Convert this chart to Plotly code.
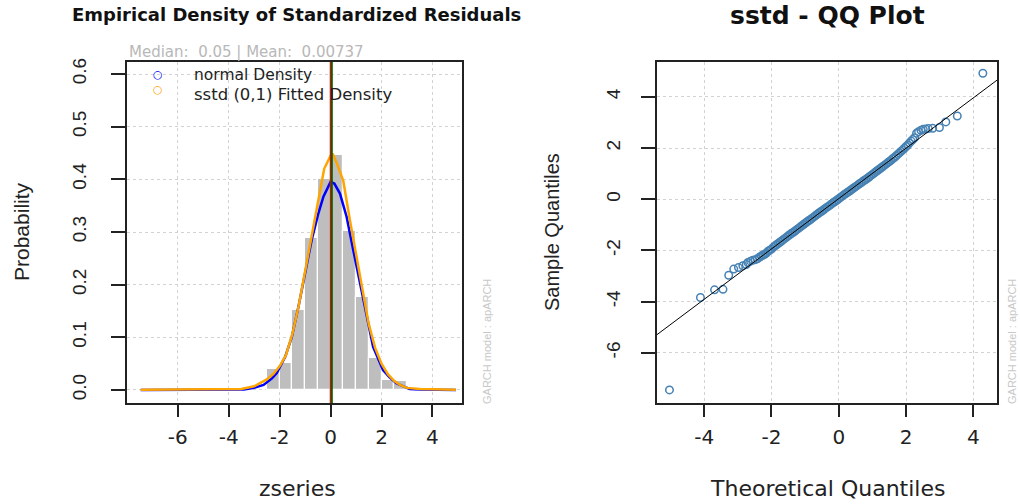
import plotly.graph_objects as go

# ---------------- data: left panel ----------------
BIN_CENTERS = [-2.25, -1.75, -1.25, -0.75, -0.25, 0.25, 0.75, 1.25, 1.75, 2.25, 2.75]
BIN_HEIGHTS = [0.039, 0.052, 0.152, 0.288, 0.400, 0.446, 0.302, 0.176, 0.061, 0.019, 0.017]
BIN_WIDTH = 0.5

NORM_X = [-7.45, -4.0, -3.4, -3.0, -2.63, -2.3, -2.11, -1.78, -1.52, -1.26, -1.0, -0.74, -0.48,
          -0.28, 0.0, 0.15, 0.37, 0.63, 0.89, 1.15, 1.41, 1.67, 2.06, 2.3, 2.58, 3.1, 3.5, 4.92]
NORM_Y = [0.0, 0.0, 0.001, 0.004, 0.0095, 0.022, 0.032, 0.063, 0.101, 0.158, 0.221, 0.285, 0.335,
          0.367, 0.395, 0.392, 0.373, 0.329, 0.266, 0.203, 0.139, 0.082, 0.038, 0.025, 0.0127, 0.002, 0.001, 0.0]

SSTD_X = [-7.45, -5.0, -4.5, -4.0, -3.5, -3.0, -2.75, -2.5, -2.25, -2.0, -1.75, -1.5, -1.25, -1.0,
          -0.75, -0.5, -0.25, 0.0, 0.1, 0.25, 0.5, 0.75, 1.0, 1.25, 1.5, 1.75, 2.0, 2.25, 2.5, 2.75,
          3.0, 3.5, 4.0, 4.92]
SSTD_Y = [0.0005, 0.001, 0.001, 0.002, 0.002, 0.007, 0.013, 0.020, 0.030, 0.045, 0.066, 0.106, 0.160,
          0.228, 0.290, 0.355, 0.420, 0.445, 0.447, 0.430, 0.397, 0.325, 0.258, 0.197, 0.125, 0.080,
          0.050, 0.030, 0.017, 0.009, 0.004, 0.002, 0.001, 0.0005]

MEAN = 0.00737
MEDIAN = 0.05

# ---------------- data: right panel (QQ plot) ----------------
QQ_THEO = [-5.03, -4.11, -3.69, -3.44, -3.27, -3.12, -2.98, -2.85, -2.75, -2.70, -2.62, -2.55, -2.48,
           -2.42, -2.36, -2.30, -2.25,
           -2.20, -2.15, -2.10, -2.05, -2.00, -1.95, -1.90, -1.85, -1.80, -1.75, -1.70, -1.65, -1.60,
           -1.55, -1.50, -1.45, -1.40, -1.35, -1.30, -1.25, -1.20, -1.15, -1.10, -1.05, -1.00, -0.95,
           -0.90, -0.85, -0.80, -0.75, -0.70, -0.65, -0.60, -0.55, -0.50, -0.45, -0.40, -0.35, -0.30,
           -0.25, -0.20, -0.15, -0.10, -0.05, 0.00, 0.05, 0.10, 0.15, 0.20, 0.25, 0.30, 0.35, 0.40,
           0.45, 0.50, 0.55, 0.60, 0.65, 0.70, 0.75, 0.80, 0.85, 0.90, 0.95, 1.00, 1.05, 1.10, 1.15,
           1.20, 1.25, 1.30, 1.35, 1.40, 1.45, 1.50, 1.55, 1.60, 1.65, 1.70, 1.75, 1.80, 1.85, 1.90,
           1.95, 2.00, 2.05, 2.10, 2.15, 2.20,
           2.25, 2.31, 2.37, 2.44, 2.51, 2.58, 2.66, 2.79, 2.99, 3.18, 3.52, 4.28]
QQ_SAMPLE = [-7.45, -3.84, -3.54, -3.52, -2.97, -2.73, -2.67, -2.60, -2.55, -2.47, -2.42, -2.38, -2.36,
             -2.33, -2.27, -2.22, -2.18,
             -2.15, -2.10, -2.03, -1.99, -1.95, -1.88, -1.83, -1.78, -1.73, -1.68, -1.63, -1.58, -1.53,
             -1.48, -1.43, -1.38, -1.33, -1.29, -1.24, -1.19, -1.14, -1.09, -1.04, -0.99, -0.94, -0.89,
             -0.84, -0.80, -0.75, -0.70, -0.65, -0.60, -0.55, -0.50, -0.46, -0.41, -0.36, -0.31, -0.27,
             -0.22, -0.17, -0.12, -0.08, -0.03, 0.02, 0.07, 0.12, 0.17, 0.21, 0.26, 0.30, 0.35, 0.40,
             0.45, 0.49, 0.54, 0.59, 0.63, 0.68, 0.73, 0.77, 0.82, 0.87, 0.92, 0.97, 1.02, 1.07, 1.12,
             1.17, 1.22, 1.27, 1.32, 1.37, 1.42, 1.47, 1.52, 1.58, 1.63, 1.69, 1.75, 1.81, 1.87, 1.93,
             1.99, 2.06, 2.12, 2.20, 2.27, 2.33,
             2.40, 2.58, 2.64, 2.69, 2.73, 2.74, 2.76, 2.77, 2.80, 3.02, 3.25, 4.92]
QQ_LINE_X = [-6.0, 6.0]
QQ_LINE_Y = [-5.88, 5.93]

LEFT_XTICKS = [-6, -4, -2, 0, 2, 4]
LEFT_XTICKTEXT = ["-6", "-4", "-2", "0", "2", "4"]
LEFT_YTICKS = [0.0, 0.1, 0.2, 0.3, 0.4, 0.5, 0.6]
LEFT_YTICKTEXT = ["0.0", "0.1", "0.2", "0.3", "0.4", "0.5", "0.6"]
RIGHT_XTICKS = [-4, -2, 0, 2, 4]
RIGHT_XTICKTEXT = ["-4", "-2", "0", "2", "4"]
RIGHT_YTICKS = [-6, -4, -2, 0, 2, 4]
RIGHT_YTICKTEXT = ["-6", "-4", "-2", "0", "2", "4"]

# ---------------- page geometry (pixels) ----------------
W, H = 1020, 504


def px(x):
    return x / W


def py(y):
    return 1 - y / H


fig = go.Figure()

fig.add_trace(go.Bar(x=BIN_CENTERS, y=BIN_HEIGHTS, width=BIN_WIDTH,
                     marker=dict(color="#BEBEBE", line=dict(color="white", width=1.2)),
                     xaxis="x", yaxis="y", showlegend=False, hoverinfo="skip"))
fig.add_trace(go.Scatter(x=NORM_X, y=NORM_Y, mode="lines", line=dict(color="#0000FF", width=2.5),
                         xaxis="x", yaxis="y", showlegend=False))
fig.add_trace(go.Scatter(x=SSTD_X, y=SSTD_Y, mode="lines", line=dict(color="#FFA500", width=2.5),
                         xaxis="x", yaxis="y", showlegend=False))

fig.add_trace(go.Scatter(x=QQ_THEO, y=QQ_SAMPLE, mode="markers",
                         marker=dict(symbol="circle-open", size=7.5, color="#4682B4",
                                     line=dict(width=1.5, color="#4682B4")),
                         xaxis="x2", yaxis="y2", showlegend=False, cliponaxis=False))
fig.add_trace(go.Scatter(x=QQ_LINE_X, y=QQ_LINE_Y, mode="lines", line=dict(color="black", width=1),
                         xaxis="x2", yaxis="y2", showlegend=False))

# mean / median lines
fig.add_shape(type="line", xref="x", yref="y domain", x0=MEAN, x1=MEAN, y0=0, y1=1,
              line=dict(color="red", width=2), layer="above")
fig.add_shape(type="line", xref="x", yref="y domain", x0=MEDIAN, x1=MEDIAN, y0=0, y1=1,
              line=dict(color="#006400", width=2), layer="above")

TICKF_X = dict(family="DejaVu Sans", size=20, color="#222222")
TICKF_Y = dict(family="Liberation Sans", size=19, color="#222222")

common = dict(showline=True, mirror=True, linecolor="#222222", linewidth=1.5,
              showgrid=True, gridcolor="#D3D3D3", griddash="dot", gridwidth=1,
              zeroline=False, ticks="outside", tickcolor="#222222", tickwidth=1.5,
              automargin=False)

fig.update_layout(
    width=W, height=H,
    margin=dict(l=0, r=0, t=0, b=0),
    paper_bgcolor="white", plot_bgcolor="white",
    showlegend=False,
    xaxis=dict(domain=[px(127), px(462)], range=[-7.99, 5.16], tickvals=LEFT_XTICKS,
               ticktext=LEFT_XTICKTEXT, ticklen=12, tickfont=TICKF_X, anchor="y",
               ticklabelstandoff=3, **common),
    yaxis=dict(domain=[py(403), py(62)], range=[-0.0247, 0.6228], tickvals=LEFT_YTICKS,
               ticktext=LEFT_YTICKTEXT, ticklen=14, tickangle=-90, tickfont=TICKF_Y,
               anchor="x", ticklabelstandoff=18, **common),
    xaxis2=dict(domain=[px(657), px(997)], range=[-5.40, 4.70], tickvals=RIGHT_XTICKS,
                ticktext=RIGHT_XTICKTEXT, ticklen=12, tickfont=TICKF_X, anchor="y2",
                ticklabelstandoff=3, **common),
    yaxis2=dict(domain=[py(403), py(62)], range=[-7.96, 5.36], tickvals=RIGHT_YTICKS,
                ticktext=RIGHT_YTICKTEXT, ticklen=14, tickangle=-90, tickfont=TICKF_Y,
                anchor="x2", ticklabelstandoff=14, **common),
    bargap=0,
)

ann = []
# titles
ann.append(dict(text="<b>Empirical Density of Standardized Residuals</b>", x=px(296), y=py(14),
                font=dict(family="DejaVu Sans", size=18, color="#111111")))
ann.append(dict(text="<b>sstd - QQ Plot</b>", x=px(827), y=py(15),
                font=dict(family="DejaVu Sans", size=25, color="#111111")))
# subtitle
ann.append(dict(text="Median:  0.05 | Mean:  0.00737", x=px(127), y=py(52), xanchor="left",
                font=dict(family="DejaVu Sans", size=15, color="#B8B8B8")))
# axis titles
ann.append(dict(text="zseries", x=px(297), y=py(488),
                font=dict(family="DejaVu Sans", size=22, color="#222222")))
ann.append(dict(text="Theoretical Quantiles", x=px(827), y=py(488),
                font=dict(family="DejaVu Sans", size=22, color="#222222")))
ann.append(dict(text="Probability", x=px(22), y=py(232), textangle=-90,
                font=dict(family="Liberation Sans", size=21, color="#222222")))
ann.append(dict(text="Sample Quantiles", x=px(552), y=py(232), textangle=-90,
                font=dict(family="Liberation Sans", size=20, color="#222222")))
# legend
ann.append(dict(text="○", x=px(158), y=py(74), font=dict(family="DejaVu Sans", size=11, color="#0000FF")))
ann.append(dict(text="○", x=px(158), y=py(89), font=dict(family="DejaVu Sans", size=11, color="#FFA500")))
ann.append(dict(text="normal Density", x=px(192), y=py(75), xanchor="left",
                font=dict(family="DejaVu Sans", size=15.5, color="#222222")))
ann.append(dict(text="sstd (0,1) Fitted Density", x=px(192), y=py(94), xanchor="left",
                font=dict(family="DejaVu Sans", size=16.5, color="#222222")))
# side captions
ann.append(dict(text="GARCH model : apARCH", x=px(487), y=py(342), textangle=-90,
                font=dict(family="Liberation Sans", size=11, color="#C8C8C8")))
ann.append(dict(text="GARCH model : apARCH", x=px(1012), y=py(342), textangle=-90,
                font=dict(family="Liberation Sans", size=11, color="#C8C8C8")))

for a in ann:
    a.setdefault("xref", "paper")
    a.setdefault("yref", "paper")
    a.setdefault("xanchor", "center")
    a.setdefault("yanchor", "middle")
    a["showarrow"] = False
fig.update_layout(annotations=ann)

fig.write_html("out.html")
